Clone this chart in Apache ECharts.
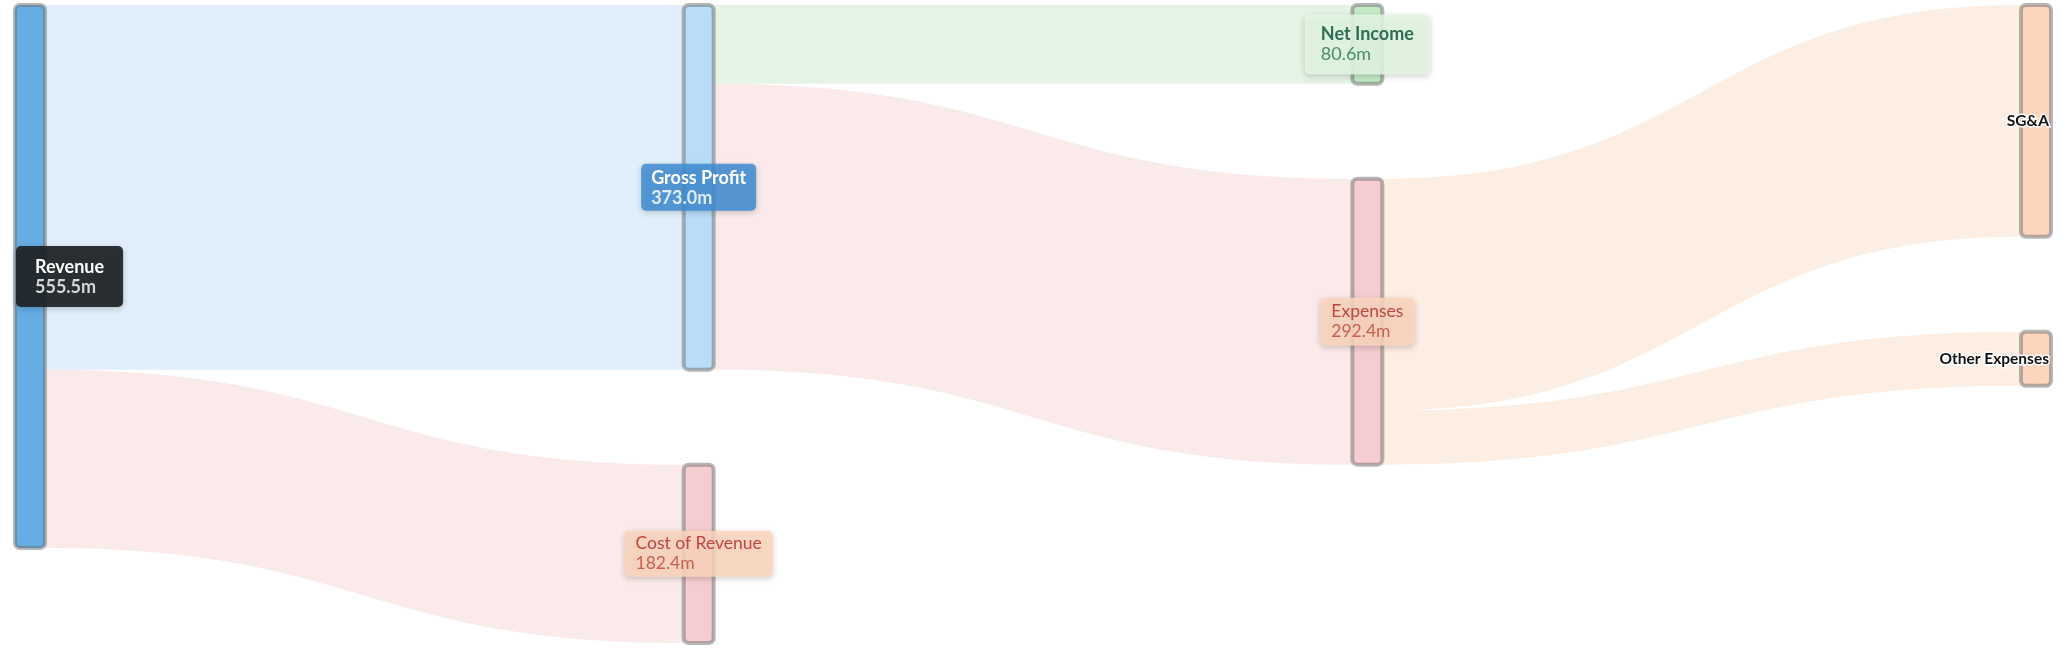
<!DOCTYPE html>
<html>
<head>
<meta charset="utf-8">
<script src="https://cdn.jsdelivr.net/npm/echarts@6/dist/echarts.min.js"></script>
<style>
  html, body { margin: 0; padding: 0; background: #fff; }
  #myChart { width: 2063px; height: 657px; }
</style>
</head>
<body>
<div id="myChart"></div>
<script>
// ---------------- data ----------------
const nodeNames = ["Revenue", "Gross Profit", "Cost of Revenue", "Net Income", "Expenses", "SG&A", "Other Expenses"];
const linkSources = ["Revenue", "Revenue", "Gross Profit", "Gross Profit", "Expenses", "Expenses"];
const linkTargets = ["Gross Profit", "Cost of Revenue", "Net Income", "Expenses", "SG&A", "Other Expenses"];
const linkValues = [373.04, 182.43, 80.6, 292.44, 237.0, 55.44];

// ---------------- styles ----------------
const nodeColors = {
  "Revenue": "#66ade4",
  "Gross Profit": "#b9ddf9",
  "Cost of Revenue": "#f5cdd0",
  "Net Income": "#c5ebc5",
  "Expenses": "#f5cdd0",
  "SG&A": "#fdd5bc",
  "Other Expenses": "#fdd5bc",
};
const linkColors = {
  "Gross Profit": "#e1effc",
  "Cost of Revenue": "#faeaea",
  "Net Income": "#e6f4e6",
  "Expenses": "#faeaea",
  "SG&A": "#fdeee3",
  "Other Expenses": "#fdeee3",
};
// 박스 라벨 스타일
const boxLabels = {
  "Revenue": { bg: "rgba(30,34,38,0.93)", name: "#ffffff", value: "#d4d6d8", weight: "bold", vWeight: "bold", size: 18, padding: [11, 19, 10, 19], position: "insideLeft" },
  "Gross Profit": { bg: "rgba(62,140,210,0.85)", name: "#ffffff", value: "rgba(255,255,255,0.82)", weight: "bold", vWeight: "bold", size: 18, padding: [4, 10, 3, 10], position: "inside" },
  "Cost of Revenue": { bg: "rgba(253,214,190,0.85)", name: "#c0473f", value: "#c8604f", weight: "normal", vWeight: "normal", size: 17.5, padding: [3, 11, 3, 11], position: "inside" },
  "Net Income": { bg: "rgba(226,246,226,0.88)", name: "#2e6e52", value: "#4b8c6c", weight: "bold", vWeight: "normal", size: 18, padding: [10, 16, 10, 16], position: "inside" },
  "Expenses": { bg: "rgba(253,214,190,0.85)", name: "#c0473f", value: "#c8604f", weight: "normal", vWeight: "normal", size: 17.5, padding: [4, 11, 4, 11], position: "inside" },
};

function nodeLabel(name) {
  const s = boxLabels[name];
  if (!s) {
    return {
      show: true,
      position: "insideRight",
      distance: 4,
      fontFamily: "Lato",
      fontWeight: "bold",
      fontSize: 15.5,
      color: "#111",
      textBorderColor: "#fff",
      textBorderWidth: 3,
      formatter: "{b}",
    };
  }
  return {
    show: true,
    position: s.position,
    distance: 3,
    backgroundColor: s.bg,
    borderRadius: 5,
    padding: s.padding,
    shadowBlur: 6,
    shadowOffsetY: 2,
    shadowColor: "rgba(0,0,0,0.22)",
    formatter: (p) => "{n|" + p.name + "}\n{v|" + p.value.toFixed(1) + "m}",
    rich: {
      n: { fontFamily: "Lato", fontSize: s.size, lineHeight: 20, fontWeight: s.weight, color: s.name, align: "left" },
      v: { fontFamily: "Lato", fontSize: s.size, lineHeight: 20, fontWeight: s.vWeight, color: s.value, align: "left" },
    },
  };
}

const nodes = nodeNames.map((name) => ({
  name: name,
  itemStyle: { color: nodeColors[name] },
  label: nodeLabel(name),
}));

const links = linkValues.map((v, i) => ({
  source: linkSources[i],
  target: linkTargets[i],
  value: v,
  lineStyle: { color: linkColors[linkTargets[i]], opacity: 1 },
}));

// ---------------- 생키 차트 ----------------
let chartDom = document.getElementById("myChart");
let myChart = echarts.init(chartDom);
let option;

option = {
  animation: false,
  series: [
    {
      type: "sankey",
      left: 15,
      top: 5,
      right: 12,
      bottom: 14,
      nodeWidth: 30,
      nodeGap: 95,
      nodeAlign: "left",
      layoutIterations: 0, // 입력 순서대로 쌓기
      draggable: false,
      emphasis: { disabled: true },
      itemStyle: {
        borderColor: "rgba(110,110,110,0.5)",
        borderWidth: 4,
        borderRadius: 5,
      },
      lineStyle: { curveness: 0.5 },
      data: nodes,
      links: links,
    },
  ],
};
myChart.setOption(option);

window.onresize = function () {
  myChart.resize();
};
</script>
</body>
</html>
